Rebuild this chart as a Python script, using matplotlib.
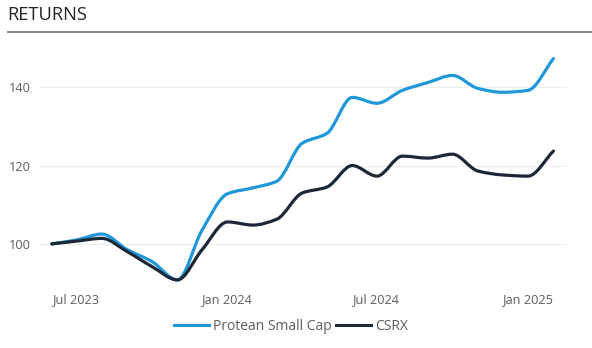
import numpy as np
import pandas as pd
import matplotlib
matplotlib.use("Agg")
import matplotlib.pyplot as plt
import matplotlib.dates as mdates
from matplotlib.path import Path
from matplotlib.patches import PathPatch
from matplotlib.lines import Line2D

plt.rcParams['font.family'] = ['Open Sans', 'DejaVu Sans']

# monthly index values, Jun 2023 .. Feb 2025
months = pd.date_range("2023-06-01", periods=21, freq="MS")
protean = [100.0, 101.0, 102.5, 98.5, 95.5, 90.8, 103.5, 112.8, 114.3, 116.0,
           125.7, 128.2, 137.4, 135.9, 139.2, 141.2, 143.0, 139.7, 138.7, 139.2, 147.3]
csrx = [100.0, 100.7, 101.4, 98.0, 94.2, 90.8, 98.5, 105.6, 104.8, 106.3,
        113.0, 114.5, 120.0, 117.3, 122.4, 121.9, 122.9, 118.6, 117.6, 117.3, 123.7]
series_names = ["Protean Small Cap", "CSRX"]
series_colors = ["#1F97D8", "#1C2738"]
yticks = [100, 120, 140]
xtick_dates = ["2023-07-01", "2024-01-01", "2024-07-01", "2025-01-01"]


def smooth_path(x, y):
    """Bezier path through the points (monotone-ish tangents), like a smoothed line chart."""
    x = np.asarray(x, float)
    y = np.asarray(y, float)
    n = len(x)
    d = np.diff(y) / np.diff(x)
    m = np.zeros(n)
    m[0], m[-1] = d[0], d[-1]
    for i in range(1, n - 1):
        if d[i - 1] * d[i] <= 0:
            m[i] = 0.0
        else:
            m[i] = 2.0 / (1.0 / d[i - 1] + 1.0 / d[i])
    verts = [(x[0], y[0])]
    codes = [Path.MOVETO]
    for i in range(n - 1):
        h = x[i + 1] - x[i]
        verts += [(x[i] + h / 3, y[i] + m[i] * h / 3),
                  (x[i + 1] - h / 3, y[i + 1] - m[i + 1] * h / 3),
                  (x[i + 1], y[i + 1])]
        codes += [Path.CURVE4] * 3
    return Path(verts, codes)


fig = plt.figure(figsize=(5.92, 3.48), dpi=100)
ax = fig.add_axes([40 / 592, 1 - 285 / 348, 527 / 592, 235 / 348])

xnum = mdates.date2num(months)
for vals, color in zip([protean, csrx], series_colors):
    ax.add_patch(PathPatch(smooth_path(xnum, vals), facecolor="none",
                           edgecolor=color, lw=2.3, capstyle="round", joinstyle="round"))

step = xnum[1] - xnum[0]
ax.set_xlim(xnum[0] - 0.48 * step, xnum[-1] + 0.55 * step)
ax.set_ylim(89.5, 149.5)
ax.set_yticks(yticks)
ax.set_xticks(mdates.date2num(pd.to_datetime(xtick_dates)))
ax.xaxis.set_major_formatter(mdates.DateFormatter("%b %Y"))
ax.grid(axis="y", color="#EDEDED", lw=0.8)
ax.set_axisbelow(True)
for s in ax.spines.values():
    s.set_visible(False)
ax.tick_params(length=0, colors="#605E5C", labelsize=9.2)
ax.tick_params(axis="y", pad=7)
ax.tick_params(axis="x", pad=6)

fig.text(7 / 592, 1 - 15.5 / 348, "RETURNS", fontsize=13.2, color="#252423", va="center")
fig.add_artist(Line2D([8 / 592, 1], [1 - 31.5 / 348] * 2, color="#7F7F7F", lw=1.3))

handles = [Line2D([], [], color=c, lw=2.2) for c in series_colors]
fig.legend(handles, series_names, loc="center", bbox_to_anchor=(291 / 592, 1 - 326 / 348),
           ncol=2, frameon=False, fontsize=10, labelcolor="#605E5C",
           handlelength=2.5, handletextpad=0.3, columnspacing=0.35)

fig.savefig("out.png", dpi=100, facecolor="white")
